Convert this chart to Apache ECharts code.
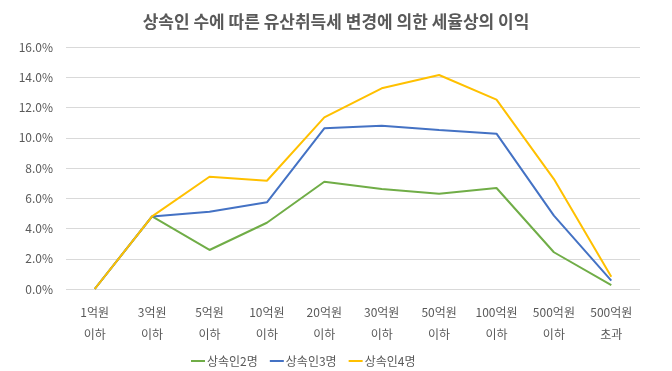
<!DOCTYPE html>
<html>
<head>
<meta charset="utf-8">
<script src="https://cdn.jsdelivr.net/npm/echarts@6/dist/echarts.min.js"></script>
<style>
html,body{margin:0;padding:0;background:#fff;}
#chart{width:672px;height:371px;}
</style>
</head>
<body>
<div id="chart"></div>
<script>
const titleText = '상속인 수에 따른 유산취득세 변경에 의한 세율상의 이익';
const categories = ['1억원\n이하','3억원\n이하','5억원\n이하','10억원\n이하','20억원\n이하','30억원\n이하','50억원\n이하','100억원\n이하','500억원\n이하','500억원\n초과'];
const heirs2 = [0, 4.8, 2.58, 4.38, 7.09, 6.61, 6.30, 6.68, 2.43, 0.26];
const heirs3 = [0, 4.8, 5.11, 5.73, 10.62, 10.80, 10.51, 10.27, 4.85, 0.55];
const heirs4 = [0, 4.8, 7.42, 7.16, 11.35, 13.27, 14.15, 12.52, 7.27, 0.81];
const seriesNames = ['상속인2명','상속인3명','상속인4명'];

const font = '"Noto Sans CJK KR", "Noto Sans", sans-serif';
const chart = echarts.init(document.getElementById('chart'));
const mk = (name, data, color) => ({
  name, type: 'line', data, symbol: 'none', smooth: false,
  lineStyle: {color, width: 2}, itemStyle: {color}
});
chart.setOption({
  animation: false,
  textStyle: {fontFamily: font},
  title: {
    text: titleText, left: 'center', top: 8,
    textStyle: {fontFamily: font, fontSize: 17, fontWeight: 'bold', color: '#595959'}
  },
  legend: {
    top: 350, left: 186, itemWidth: 14, itemHeight: 2, itemGap: 12,
    icon: 'rect',
    textStyle: {fontFamily: font, fontSize: 12, color: '#595959', padding: [0,0,0,-3]},
    data: seriesNames
  },
  grid: {left: 66, right: 32, top: 47, bottom: 82, containLabel: false},
  xAxis: {
    type: 'category', data: categories, boundaryGap: true,
    axisLine: {show: false}, axisTick: {show: false},
    axisLabel: {fontFamily: font, fontSize: 12, color: '#595959', lineHeight: 22, margin: 12, interval: 0}
  },
  yAxis: {
    type: 'value', min: 0, max: 16, interval: 2,
    axisLine: {show: false}, axisTick: {show: false},
    splitLine: {lineStyle: {color: '#D9D9D9', width: 1}},
    axisLabel: {fontFamily: font, fontSize: 12, color: '#595959', margin: 13,
      formatter: v => v.toFixed(1) + '%'}
  },
  series: [
    mk(seriesNames[0], heirs2, '#70AD47'),
    mk(seriesNames[1], heirs3, '#4472C4'),
    mk(seriesNames[2], heirs4, '#FFC000')
  ]
});
</script>
</body>
</html>
